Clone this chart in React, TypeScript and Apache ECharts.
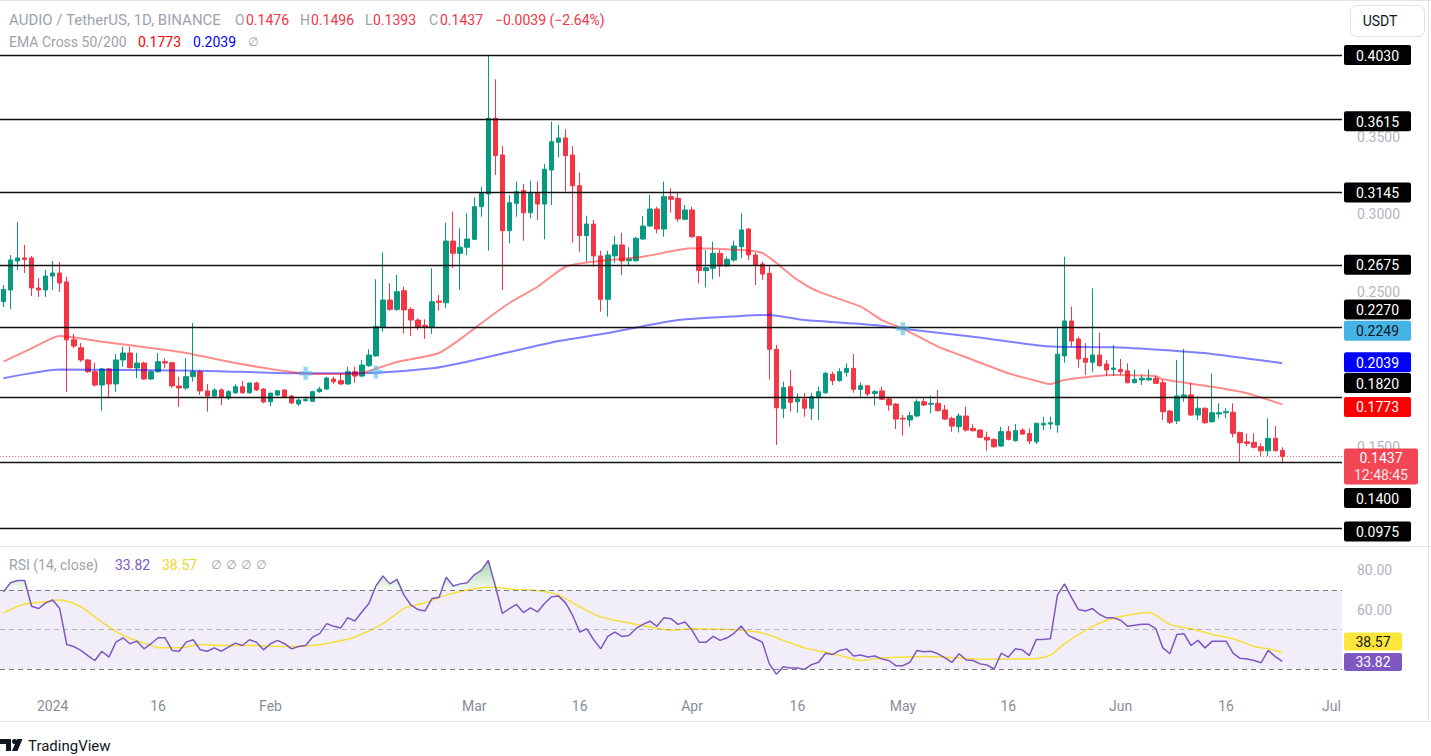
import React, { useEffect, useRef } from 'react';
import * as echarts from 'echarts';

const FONT = 'Roboto, "Noto Sans", "DejaVu Sans", sans-serif';

// ---------- categories (daily, Dec 25 2023 .. Jul 2 2024) ----------
const START_UTC = Date.UTC(2023, 11, 25);
const DAY_COUNT = 191;
const dates: string[] = Array.from({ length: DAY_COUNT }, (_, i) =>
  new Date(START_UTC + i * 86400000).toISOString().slice(0, 10)
);

const timeTicks: [string, string][] = [
  ['2024-01-01', '2024'], ['2024-01-16', '16'], ['2024-02-01', 'Feb'],
  ['2024-03-01', 'Mar'], ['2024-03-16', '16'], ['2024-04-01', 'Apr'],
  ['2024-04-16', '16'], ['2024-05-01', 'May'], ['2024-05-16', '16'],
  ['2024-06-01', 'Jun'], ['2024-06-16', '16'], ['2024-07-01', 'Jul'],
];

// ---------- candles: [open, high, low, close] ----------
const candles: [number, number, number, number][] = [
  [0.2436, 0.2544, 0.2402, 0.2516], [0.2512, 0.2738, 0.2389, 0.2706], [0.2699, 0.2951, 0.2641, 0.2719],
  [0.2719, 0.2803, 0.2622, 0.2709], [0.2719, 0.2732, 0.2473, 0.2525], [0.2525, 0.2589, 0.2467, 0.2512],
  [0.2512, 0.2641, 0.2467, 0.2602], [0.2602, 0.2699, 0.2512, 0.2622], [0.2622, 0.2693, 0.2499, 0.2557],
  [0.2564, 0.2596, 0.1853, 0.2190], [0.2190, 0.2228, 0.2137, 0.2150], [0.2139, 0.2170, 0.2047, 0.2060],
  [0.2060, 0.2066, 0.1976, 0.1984], [0.1984, 0.2042, 0.1887, 0.1898], [0.1898, 0.2008, 0.1732, 0.2002],
  [0.2002, 0.2008, 0.1814, 0.1905], [0.1905, 0.2099, 0.1853, 0.2060], [0.2060, 0.2146, 0.2016, 0.2105],
  [0.2105, 0.2146, 0.2006, 0.2010], [0.2008, 0.2105, 0.1943, 0.2040], [0.2040, 0.2049, 0.1931, 0.1937],
  [0.1937, 0.1995, 0.1931, 0.1984], [0.1984, 0.2105, 0.1978, 0.2049], [0.2049, 0.2071, 0.2006, 0.2040],
  [0.2042, 0.2049, 0.1879, 0.1892], [0.1892, 0.1952, 0.1758, 0.1879], [0.1879, 0.2071, 0.1866, 0.1952],
  [0.1952, 0.2299, 0.1920, 0.1984], [0.1984, 0.1995, 0.1834, 0.1860], [0.1860, 0.1905, 0.1726, 0.1827],
  [0.1827, 0.1877, 0.1823, 0.1866], [0.1866, 0.1877, 0.1769, 0.1823], [0.1814, 0.1866, 0.1801, 0.1855],
  [0.1848, 0.1903, 0.1840, 0.1887], [0.1887, 0.1924, 0.1840, 0.1848], [0.1848, 0.1913, 0.1840, 0.1911],
  [0.1911, 0.1920, 0.1860, 0.1866], [0.1872, 0.1877, 0.1780, 0.1788], [0.1790, 0.1848, 0.1762, 0.1846],
  [0.1834, 0.1866, 0.1827, 0.1861], [0.1866, 0.1870, 0.1819, 0.1823], [0.1827, 0.1834, 0.1776, 0.1782],
  [0.1776, 0.1812, 0.1762, 0.1801], [0.1797, 0.1823, 0.1790, 0.1806], [0.1793, 0.1861, 0.1790, 0.1855],
  [0.1855, 0.1887, 0.1848, 0.1872], [0.1872, 0.1952, 0.1866, 0.1943], [0.1937, 0.1952, 0.1905, 0.1920],
  [0.1926, 0.1974, 0.1898, 0.1905], [0.1905, 0.2016, 0.1898, 0.1984], [0.1984, 0.2016, 0.1913, 0.1956],
  [0.1956, 0.2060, 0.1948, 0.2027], [0.2023, 0.2129, 0.2016, 0.2092], [0.2086, 0.2581, 0.2081, 0.2275],
  [0.2271, 0.2755, 0.2243, 0.2447], [0.2447, 0.2555, 0.2378, 0.2387], [0.2387, 0.2609, 0.2378, 0.2501],
  [0.2507, 0.2533, 0.2232, 0.2383], [0.2387, 0.2400, 0.2215, 0.2318], [0.2318, 0.2329, 0.2254, 0.2271],
  [0.2284, 0.2323, 0.2196, 0.2271], [0.2271, 0.2652, 0.2228, 0.2436], [0.2441, 0.2480, 0.2378, 0.2432],
  [0.2429, 0.2947, 0.2396, 0.2828], [0.2828, 0.3018, 0.2652, 0.2749], [0.2749, 0.2911, 0.2512, 0.2788],
  [0.2788, 0.3007, 0.2738, 0.2841], [0.2839, 0.3111, 0.2835, 0.3050], [0.3050, 0.3179, 0.2985, 0.3137],
  [0.3132, 0.4030, 0.2766, 0.3621], [0.3621, 0.3873, 0.3255, 0.3380], [0.3384, 0.3442, 0.2512, 0.2895],
  [0.2895, 0.3126, 0.2814, 0.3076], [0.3072, 0.3212, 0.2985, 0.3147], [0.3154, 0.3197, 0.2830, 0.3011],
  [0.3011, 0.3218, 0.2975, 0.3137], [0.3137, 0.3212, 0.2964, 0.3067], [0.3067, 0.3326, 0.2839, 0.3292],
  [0.3287, 0.3599, 0.3061, 0.3470], [0.3466, 0.3578, 0.3369, 0.3494], [0.3494, 0.3550, 0.3147, 0.3380],
  [0.3384, 0.3442, 0.2818, 0.3186], [0.3186, 0.3270, 0.2759, 0.2863], [0.2863, 0.2992, 0.2695, 0.2938],
  [0.2938, 0.2964, 0.2662, 0.2732], [0.2732, 0.2766, 0.2372, 0.2452], [0.2452, 0.2766, 0.2340, 0.2738],
  [0.2732, 0.2861, 0.2688, 0.2803], [0.2803, 0.2882, 0.2609, 0.2699], [0.2701, 0.2788, 0.2667, 0.2712],
  [0.2701, 0.2856, 0.2695, 0.2846], [0.2841, 0.2990, 0.2835, 0.2925], [0.2925, 0.3126, 0.2921, 0.3035],
  [0.3035, 0.3050, 0.2878, 0.2906], [0.2906, 0.3212, 0.2856, 0.3115], [0.3115, 0.3169, 0.3011, 0.3098],
  [0.3104, 0.3143, 0.2953, 0.2971], [0.2969, 0.3061, 0.2964, 0.3029], [0.3029, 0.3050, 0.2850, 0.2856],
  [0.2856, 0.2861, 0.2555, 0.2637], [0.2637, 0.2770, 0.2529, 0.2656], [0.2652, 0.2824, 0.2581, 0.2749],
  [0.2749, 0.2770, 0.2598, 0.2667], [0.2667, 0.2727, 0.2662, 0.2710], [0.2706, 0.2830, 0.2695, 0.2796],
  [0.2792, 0.3007, 0.2717, 0.2900], [0.2906, 0.2911, 0.2706, 0.2738], [0.2738, 0.2753, 0.2544, 0.2674],
  [0.2680, 0.2695, 0.2577, 0.2615], [0.2620, 0.2667, 0.1935, 0.2129], [0.2129, 0.2157, 0.1511, 0.1751],
  [0.1747, 0.1920, 0.1683, 0.1881], [0.1887, 0.1995, 0.1726, 0.1786], [0.1790, 0.1844, 0.1719, 0.1808],
  [0.1806, 0.1846, 0.1693, 0.1748], [0.1748, 0.1848, 0.1672, 0.1823], [0.1819, 0.1887, 0.1672, 0.1855],
  [0.1848, 0.1984, 0.1840, 0.1974], [0.1967, 0.1984, 0.1898, 0.1926], [0.1926, 0.2006, 0.1920, 0.1984],
  [0.1980, 0.2038, 0.1952, 0.2006], [0.2006, 0.2098, 0.1848, 0.1870], [0.1870, 0.1913, 0.1812, 0.1893],
  [0.1893, 0.1898, 0.1827, 0.1840], [0.1844, 0.1866, 0.1765, 0.1855], [0.1860, 0.1887, 0.1801, 0.1806],
  [0.1808, 0.1823, 0.1732, 0.1769], [0.1775, 0.1780, 0.1614, 0.1678], [0.1683, 0.1704, 0.1571, 0.1678],
  [0.1672, 0.1726, 0.1629, 0.1700], [0.1698, 0.1806, 0.1690, 0.1790], [0.1790, 0.1812, 0.1762, 0.1769],
  [0.1774, 0.1829, 0.1715, 0.1780], [0.1780, 0.1866, 0.1728, 0.1732], [0.1737, 0.1769, 0.1672, 0.1678],
  [0.1683, 0.1694, 0.1597, 0.1633], [0.1629, 0.1715, 0.1591, 0.1698], [0.1698, 0.1758, 0.1597, 0.1607],
  [0.1618, 0.1644, 0.1597, 0.1603], [0.1607, 0.1612, 0.1554, 0.1560], [0.1560, 0.1597, 0.1474, 0.1543],
  [0.1547, 0.1554, 0.1494, 0.1499], [0.1504, 0.1629, 0.1499, 0.1597], [0.1597, 0.1633, 0.1540, 0.1547],
  [0.1538, 0.1646, 0.1532, 0.1603], [0.1607, 0.1618, 0.1575, 0.1581], [0.1585, 0.1618, 0.1517, 0.1536],
  [0.1531, 0.1654, 0.1517, 0.1651], [0.1640, 0.1694, 0.1607, 0.1651], [0.1646, 0.1694, 0.1612, 0.1654],
  [0.1640, 0.2268, 0.1590, 0.2097], [0.2086, 0.2727, 0.2042, 0.2312], [0.2312, 0.2404, 0.2145, 0.2182],
  [0.2195, 0.2210, 0.2010, 0.2066], [0.2071, 0.2168, 0.1963, 0.2045], [0.2045, 0.2523, 0.1984, 0.2092],
  [0.2092, 0.2236, 0.2016, 0.2023], [0.2034, 0.2060, 0.1956, 0.1995], [0.1999, 0.2157, 0.1956, 0.2008],
  [0.1999, 0.2066, 0.1963, 0.1984], [0.1990, 0.2038, 0.1909, 0.1913], [0.1913, 0.1999, 0.1909, 0.1935],
  [0.1931, 0.1963, 0.1898, 0.1942], [0.1931, 0.1999, 0.1926, 0.1942], [0.1942, 0.1956, 0.1905, 0.1909],
  [0.1913, 0.1931, 0.1672, 0.1726], [0.1730, 0.1737, 0.1646, 0.1657], [0.1666, 0.2060, 0.1646, 0.1827],
  [0.1823, 0.2131, 0.1790, 0.1834], [0.1834, 0.1913, 0.1698, 0.1704], [0.1704, 0.1823, 0.1672, 0.1748],
  [0.1748, 0.1754, 0.1646, 0.1655], [0.1661, 0.1974, 0.1655, 0.1719], [0.1711, 0.1780, 0.1683, 0.1719],
  [0.1719, 0.1748, 0.1683, 0.1726], [0.1722, 0.1780, 0.1560, 0.1586], [0.1592, 0.1597, 0.1403, 0.1525],
  [0.1531, 0.1586, 0.1504, 0.1521], [0.1528, 0.1586, 0.1489, 0.1496], [0.1499, 0.1521, 0.1440, 0.1473],
  [0.1473, 0.1683, 0.1440, 0.1554], [0.1554, 0.1633, 0.1470, 0.1473], [0.1476, 0.1496, 0.1393, 0.1437],
];

// ---------- EMA Cross 50/200 ([dayIndex, value]) ----------
const ema50Points: [number, number][] = [
  [0, 0.2049], [4, 0.2135], [8, 0.2215], [14, 0.2178], [22, 0.2131], [26, 0.2105], [33, 0.2040],
  [42, 0.1976], [47, 0.1969], [51, 0.1976], [56, 0.2047], [62, 0.2105], [66, 0.2228], [69, 0.2331],
  [72, 0.2428], [76, 0.2533], [80, 0.2662], [84, 0.2695], [91, 0.2727], [98, 0.2781], [105, 0.2770],
  [108, 0.2751], [110, 0.2686], [113, 0.2577], [116, 0.2501], [122, 0.2404], [125, 0.2318],
  [128, 0.2262], [133, 0.2146], [138, 0.2060], [143, 0.1974], [148, 0.1913], [149, 0.1905],
  [151, 0.1931], [158, 0.1963], [164, 0.1956], [165, 0.1935], [172, 0.1887], [177, 0.1845], [182, 0.1773],
];
const ema200Points: [number, number][] = [
  [0, 0.1942], [8, 0.1998], [28, 0.1991], [42, 0.1974], [53, 0.1978], [61, 0.2006], [66, 0.2049],
  [72, 0.2111], [79, 0.2182], [86, 0.2234], [96, 0.2318], [105, 0.2344], [109, 0.2350], [114, 0.2318],
  [124, 0.2286], [128, 0.2262], [138, 0.2210], [147, 0.2155], [150, 0.2146], [158, 0.2142],
  [165, 0.2124], [172, 0.2099], [182, 0.2039],
];
const crossPoints: [number, number][] = [[43, 0.1974], [53, 0.1982], [128, 0.2262]];

// ---------- horizontal levels ----------
const levels = [0.4030, 0.3615, 0.3145, 0.2675, 0.2270, 0.1820, 0.1400, 0.0975];
const priceTicks = [0.15, 0.25, 0.3, 0.35];
const lastPrice = 0.1437;
const countdown = '12:48:45';
const crossValue = 0.2249;
const ema50Last = 0.1773;
const ema200Last = 0.2039;

// ---------- RSI (14, close) ----------
const rsi = [
  69.1, 73.7, 74.8, 74.8, 61.8, 60.6, 63.5, 64.9, 60.6, 42.4,
  41.4, 39.4, 36.8, 34.3, 39.0, 36.0, 43.6, 45.8, 42.8, 44.1,
  40.2, 42.8, 45.8, 45.8, 39.4, 39.0, 43.6, 44.8, 39.7, 39.0,
  40.7, 39.0, 41.1, 43.1, 41.9, 44.8, 43.6, 39.7, 42.8, 44.5,
  42.8, 40.2, 41.4, 41.9, 46.2, 47.9, 53.0, 51.6, 50.8, 56.0,
  54.3, 58.9, 63.2, 72.0, 77.1, 73.1, 75.4, 67.4, 62.3, 60.1,
  59.4, 65.7, 66.3, 76.5, 72.0, 73.1, 73.7, 77.7, 79.9, 85.0,
  72.0, 58.1, 60.6, 62.7, 58.6, 61.0, 58.9, 63.2, 66.6, 66.9,
  63.5, 57.2, 48.7, 50.4, 44.8, 40.2, 46.5, 48.7, 46.5, 47.0,
  50.4, 52.6, 54.2, 51.6, 56.0, 55.5, 52.6, 53.8, 49.6, 43.6,
  43.6, 46.5, 44.5, 45.8, 48.2, 51.8, 47.0, 45.3, 43.6, 32.6,
  27.4, 31.2, 30.5, 30.5, 29.8, 32.2, 33.4, 38.0, 37.3, 39.4,
  40.2, 36.6, 37.1, 36.1, 36.6, 35.1, 34.3, 31.7, 31.7, 33.4,
  39.4, 38.7, 39.0, 37.7, 35.6, 33.4, 37.7, 34.6, 34.3, 32.6,
  32.0, 30.0, 38.0, 36.0, 40.2, 39.7, 36.8, 45.0, 45.0, 45.3,
  67.4, 73.1, 66.3, 60.1, 59.4, 60.6, 57.6, 55.9, 55.9, 54.7,
  51.6, 52.1, 52.6, 52.6, 50.4, 40.7, 37.7, 47.5, 47.9, 41.9,
  44.5, 40.7, 44.0, 44.0, 44.1, 38.0, 35.4, 35.1, 34.3, 33.2,
  39.4, 36.3, 33.82,
];
const rsiMaPoints: [number, number][] = [
  [0, 58.4], [3, 62.9], [6, 64.0], [8, 64.9], [11, 61.5], [14, 53.8], [17, 47.0], [21, 41.9],
  [22, 40.7], [25, 40.7], [28, 42.4], [31, 41.9], [35, 41.9], [38, 41.6], [41, 41.4], [44, 41.9],
  [47, 43.6], [50, 46.2], [54, 53.0], [57, 60.6], [60, 63.5], [63, 67.4], [66, 70.0], [69, 71.4],
  [73, 70.3], [76, 69.7], [79, 67.4], [82, 61.5], [85, 56.4], [89, 53.3], [92, 51.3], [95, 49.6],
  [98, 50.4], [102, 50.1], [105, 49.6], [108, 48.2], [111, 44.5], [114, 40.7], [117, 38.5],
  [120, 36.0], [122, 34.3], [125, 35.6], [128, 36.0], [131, 36.3], [134, 36.0], [137, 35.4],
  [140, 34.9], [143, 35.1], [146, 35.1], [149, 37.1], [151, 42.8], [154, 49.6], [157, 54.7],
  [160, 57.2], [163, 58.6], [166, 52.6], [169, 50.4], [172, 47.5], [175, 45.3], [178, 41.4],
  [180, 40.2], [182, 38.57],
];
const rsiTicks = [60, 80];
const rsiLevels = [70, 50, 30];
const rsiLast = 33.82;
const rsiMaLast = 38.57;

// ---------- legend texts ----------
const titleText = 'AUDIO / TetherUS, 1D, BINANCE';
const ohlcLegend: [string, string, number, number][] = [
  ['O', '0.1476', 235, 246], ['H', '0.1496', 300, 311], ['L', '0.1393', 365, 373], ['C', '0.1437', 429, 440],
];
const changeText = '\u22120.0039 (\u22122.64%)';

const GREEN = '#089981';
const RED = '#f23645';
const GRAY_TXT = '#9fa2ab';

function buildOption(): any {
  const tickMap = new Map(timeTicks);
  const near = (v: number, list: number[], eps: number) => list.some((t) => Math.abs(t - v) < eps);
  return {
    animation: false,
    backgroundColor: '#ffffff',
    grid: [
      { left: -1, top: 40, width: 1343, height: 505 },
      { left: -1, top: 547, width: 1343, height: 143 },
    ],
    xAxis: [
      {
        type: 'category', gridIndex: 0, data: dates, boundaryGap: true,
        axisLine: { show: false }, axisTick: { show: false }, axisLabel: { show: false }, splitLine: { show: false },
      },
      {
        type: 'category', gridIndex: 1, data: dates, boundaryGap: true,
        axisLine: { show: false }, axisTick: { show: false }, splitLine: { show: false },
        axisLabel: {
          interval: (_i: number, v: string) => tickMap.has(v),
          formatter: (v: string) => tickMap.get(v) ?? '',
          color: '#8a8d96', fontSize: 14, fontFamily: FONT, margin: 9,
        },
      },
    ],
    yAxis: [
      {
        type: 'value', gridIndex: 0, position: 'right', min: 0.08646, max: 0.41269, splitNumber: 6,
        axisLine: { show: false }, axisTick: { show: false }, splitLine: { show: false },
        axisLabel: {
          formatter: (v: number) => (near(v, priceTicks, 1e-6) ? v.toFixed(4) : ''),
          color: '#b2b5be', fontSize: 14, fontFamily: FONT, margin: 15,
        },
      },
      {
        type: 'value', gridIndex: 1, position: 'right', min: 19.37, max: 91.77, splitNumber: 4,
        axisLine: { show: false }, axisTick: { show: false }, splitLine: { show: false },
        axisLabel: {
          formatter: (v: number) => (near(v, rsiTicks, 1e-6) ? v.toFixed(2) : ''),
          color: '#b2b5be', fontSize: 14, fontFamily: FONT, margin: 15,
        },
      },
    ],
    series: [
      {
        type: 'candlestick', xAxisIndex: 0, yAxisIndex: 0,
        data: candles.map(([o, h, l, c]) => [o, c, l, h]),
        barWidth: 5,
        itemStyle: { color: GREEN, color0: RED, borderColor: GREEN, borderColor0: RED, borderWidth: 1 },
        z: 3,
        markLine: {
          silent: true, symbol: ['none', 'none'], label: { show: false }, animation: false, precision: 4,
          data: [
            ...levels.map((v) => ({ yAxis: v, lineStyle: { color: '#111111', width: 1.3, type: 'solid' } })),
            { yAxis: lastPrice, lineStyle: { color: 'rgba(242,54,69,0.75)', width: 1, type: [1, 2] } },
          ],
        },
      },
      {
        type: 'line', xAxisIndex: 0, yAxisIndex: 0, data: ema200Points, smooth: 0.2, symbol: 'none',
        lineStyle: { color: 'rgba(0,0,255,0.5)', width: 2 }, z: 4,
      },
      {
        type: 'line', xAxisIndex: 0, yAxisIndex: 0, data: ema50Points, smooth: 0.2, symbol: 'none',
        lineStyle: { color: 'rgba(255,0,0,0.45)', width: 2 }, z: 4,
      },
      {
        type: 'scatter', xAxisIndex: 0, yAxisIndex: 0, data: crossPoints,
        symbol: 'path://M4 0h4v4h4v4h-4v4h-4v-4h-4v-4h4z', symbolSize: 13,
        itemStyle: { color: 'rgba(78,182,234,0.75)' }, z: 5,
      },
      // RSI pane
      {
        type: 'line', xAxisIndex: 1, yAxisIndex: 1, data: rsi.map(() => 70), stack: 'ob', symbol: 'none',
        lineStyle: { opacity: 0 }, z: 1, silent: true,
        markArea: {
          silent: true, itemStyle: { color: 'rgba(126,87,194,0.1)' },
          data: [[{ yAxis: 30 }, { yAxis: 70 }]],
        },
        markLine: {
          silent: true, symbol: ['none', 'none'], label: { show: false }, animation: false, precision: 2,
          data: rsiLevels.map((v) => ({
            yAxis: v,
            lineStyle: { color: v === 50 ? 'rgba(120,123,134,0.5)' : '#787b86', width: 1, type: [5, 4] },
          })),
        },
      },
      {
        type: 'line', xAxisIndex: 1, yAxisIndex: 1, data: rsi.map((v) => Math.max(v - 70, 0)), stack: 'ob',
        symbol: 'none', lineStyle: { opacity: 0 }, z: 2, silent: true,
        areaStyle: {
          opacity: 1,
          color: new echarts.graphic.LinearGradient(0, 0, 0, 1, [
            { offset: 0, color: 'rgba(76,175,80,0.5)' },
            { offset: 1, color: 'rgba(76,175,80,0.06)' },
          ]),
        },
      },
      {
        type: 'line', xAxisIndex: 1, yAxisIndex: 1, data: rsiMaPoints, smooth: 0.3, symbol: 'none',
        lineStyle: { color: '#f5df3a', width: 1.5 }, z: 3,
      },
      {
        type: 'line', xAxisIndex: 1, yAxisIndex: 1, data: rsi, symbol: 'none',
        lineStyle: { color: '#7e57c2', width: 1.5 }, z: 4,
      },
    ],
  };
}

function txt(x: number, y: number, text: string, fill: string, size = 14, align = 'left'): any {
  return {
    type: 'text', x, y, z: 100,
    style: {
      text, fill, font: `${size}px ${FONT}`,
      textAlign: align, align, textVerticalAlign: 'middle', verticalAlign: 'middle',
    },
  };
}

function box(x: number, cy: number, w: number, h: number, text: string, bg: string, fg: string): any {
  return {
    type: 'group', x, y: cy - h / 2, z: 100,
    children: [
      { type: 'rect', z: 100, shape: { x: 0, y: 0, width: w, height: h, r: 2 }, style: { fill: bg } },
      {
        type: 'text', z: 101, x: w / 2, y: h / 2 + 0.5,
        style: {
          text, fill: fg, font: `14px ${FONT}`,
          textAlign: 'center', align: 'center', textVerticalAlign: 'middle', verticalAlign: 'middle',
        },
      },
    ],
  };
}

function buildGraphics(chart: echarts.ECharts): any[] {
  const py = (v: number) => chart.convertToPixel({ yAxisIndex: 0 }, v) as number;
  const ry = (v: number) => chart.convertToPixel({ yAxisIndex: 1 }, v) as number;
  const BX = 1344;
  const BW = 67;
  const g: any[] = [];

  // frame / separators
  g.push({ type: 'line', z: 90, shape: { x1: 0, y1: 0.5, x2: 1431, y2: 0.5 }, style: { stroke: '#e0e3eb', lineWidth: 1 } });
  g.push({ type: 'line', z: 90, shape: { x1: 0, y1: 546.5, x2: 1431, y2: 546.5 }, style: { stroke: '#e0e3eb', lineWidth: 1 } });
  g.push({ type: 'line', z: 90, shape: { x1: 0, y1: 721.5, x2: 1431, y2: 721.5 }, style: { stroke: '#e0e3eb', lineWidth: 1 } });
  g.push({ type: 'line', z: 90, shape: { x1: 1428.5, y1: 0, x2: 1428.5, y2: 722 }, style: { stroke: '#e0e3eb', lineWidth: 1 } });

  // legend line 1
  g.push(txt(9, 20, titleText, GRAY_TXT, 15));
  ohlcLegend.forEach(([k, v, xk, xv]) => {
    g.push(txt(xk, 20, k, GRAY_TXT));
    g.push(txt(xv, 20, v, RED));
  });
  g.push(txt(495, 20, changeText, RED));
  // legend line 2
  g.push(txt(9, 42, 'EMA Cross 50/200', GRAY_TXT));
  g.push(txt(138, 42, ema50Last.toFixed(4), '#ff0000'));
  g.push(txt(193, 42, ema200Last.toFixed(4), '#0000ff'));
  g.push(txt(248, 42, '\u2205', GRAY_TXT, 12));
  // RSI legend
  g.push(txt(9, 565, 'RSI (14, close)', GRAY_TXT));
  g.push(txt(115, 565, rsiLast.toFixed(2), '#7e57c2'));
  g.push(txt(162, 565, rsiMaLast.toFixed(2), '#f2d52a'));
  [211, 226, 241, 256].forEach((x) => g.push(txt(x, 565, '\u2205', GRAY_TXT, 12)));

  // USDT button
  g.push({
    type: 'rect', z: 100, shape: { x: 1350.5, y: 5.5, width: 74, height: 31, r: 6 },
    style: { fill: '#ffffff', stroke: '#e0e3eb', lineWidth: 1 },
  });
  g.push(txt(1380, 21, 'USDT', '#131722', 14, 'center'));

  // price-scale labels
  const labelSpecs: [number, string, string, number][] = [
    [0.4030, '#000000', '#ffffff', 0],
    [0.3615, '#000000', '#ffffff', 2],
    [0.3145, '#000000', '#ffffff', 0.5],
    [0.2675, '#000000', '#ffffff', 0],
    [0.2270, '#000000', '#ffffff', -18],
    [crossValue, '#45b3e6', '#131722', 0],
    [ema200Last, '#0000ff', '#ffffff', -1],
    [0.1820, '#000000', '#ffffff', -14],
    [ema50Last, '#ff0000', '#ffffff', 2.5],
    [0.1400, '#000000', '#ffffff', 36],
    [0.0975, '#000000', '#ffffff', 3.5],
  ];
  labelSpecs.forEach(([v, bg, fg, off]) => g.push(box(BX, py(v) + off, BW, 20, v.toFixed(4), bg, fg)));

  // current price + countdown
  const cy = py(lastPrice);
  g.push({
    type: 'group', x: BX, y: cy - 8, z: 110,
    children: [
      { type: 'rect', z: 110, shape: { x: 0, y: 0, width: 74, height: 36, r: 2 }, style: { fill: RED, opacity: 0.92 } },
      {
        type: 'text', z: 111, x: 37, y: 9.5,
        style: { text: lastPrice.toFixed(4), fill: '#ffffff', font: `14px ${FONT}`, textAlign: 'center', align: 'center', textVerticalAlign: 'middle', verticalAlign: 'middle' },
      },
      {
        type: 'text', z: 111, x: 37, y: 27,
        style: { text: countdown, fill: 'rgba(255,255,255,0.9)', font: `14px ${FONT}`, textAlign: 'center', align: 'center', textVerticalAlign: 'middle', verticalAlign: 'middle' },
      },
    ],
  });

  // RSI labels
  g.push(box(BX, ry(rsiMaLast) - 10.5, 58, 18, rsiMaLast.toFixed(2), '#fbe73c', '#131722'));
  g.push(box(BX, ry(rsiLast) + 0.5, 58, 18, rsiLast.toFixed(2), '#7e57c2', '#ffffff'));

  // TradingView logo
  g.push({ type: 'polygon', z: 100, shape: { points: [[0, 739], [11, 739], [11, 751], [6, 751], [6, 744], [0, 744]] }, style: { fill: '#131722' } });
  g.push({ type: 'circle', z: 100, shape: { cx: 14.5, cy: 741.5, r: 2.5 }, style: { fill: '#131722' } });
  g.push({ type: 'polygon', z: 100, shape: { points: [[12, 751], [17, 739], [22.5, 739], [17.5, 751]] }, style: { fill: '#131722' } });
  g.push(txt(28, 745.5, 'TradingView', '#131722', 15));

  return g;
}

export default function App() {
  const ref = useRef<HTMLDivElement>(null);
  useEffect(() => {
    const el = ref.current;
    if (!el) return;
    const chart = echarts.init(el, null, { renderer: 'svg', width: 1431, height: 756 });
    chart.setOption(buildOption());
    chart.setOption({ graphic: buildGraphics(chart) });
    return () => chart.dispose();
  }, []);
  return (
    <div
      ref={ref}
      style={{ position: 'fixed', left: 0, top: 0, width: 1431, height: 756, background: '#ffffff' }}
    />
  );
}
